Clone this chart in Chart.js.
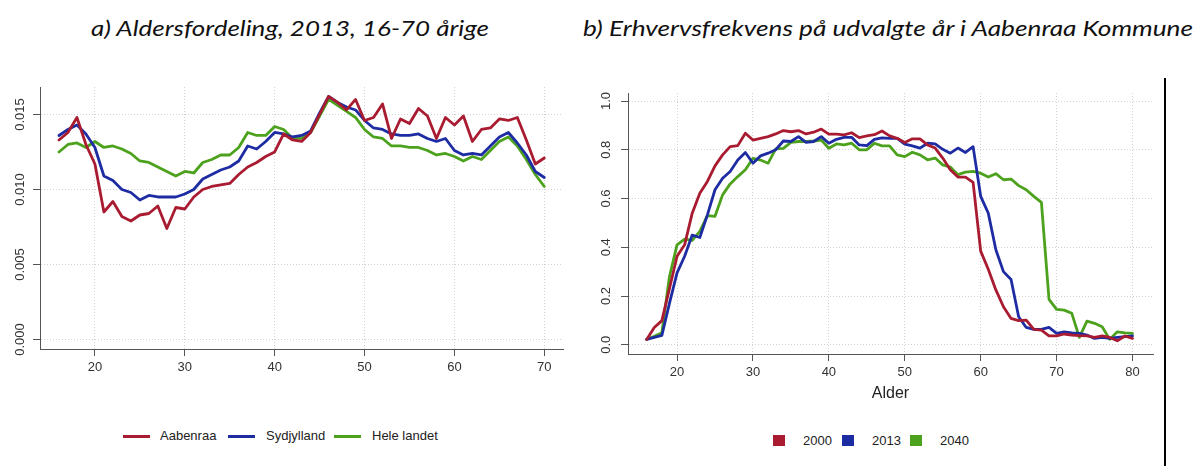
<!DOCTYPE html>
<html>
<head>
<meta charset="utf-8">
<script src="https://cdn.jsdelivr.net/npm/chart.js@4.4.1/dist/chart.umd.min.js"></script>
<style>
  body { margin: 0; background: #fff; width: 1198px; height: 466px; overflow: hidden; position: relative;
         font-family: "Liberation Sans", Arial, sans-serif; }
  .title { position: absolute; top: 17px; font-family: Lato, "Open Sans", sans-serif; font-style: italic;
           font-weight: 400; font-size: 22px; line-height: 22px; color: #111; white-space: nowrap; transform-origin: left top; }
  #wrapA { position: absolute; left: 0; top: 0; width: 590px; height: 400px; }
  #wrapB { position: absolute; left: 590px; top: 0; width: 575px; height: 404px; }
  .leg { position: absolute; font-size: 13px; line-height: 15px; color: #222; white-space: nowrap; }
  .swatch { position: absolute; }
  .rule { position: absolute; left: 1164px; top: 78px; width: 1.5px; height: 388px; background: #000; }
</style>
</head>
<body>
<div class="title" id="titleA" style="left:91px">a) Aldersfordeling, 2013, 16-70 årige</div>
<div class="title" id="titleB" style="left:583px">b) Erhvervsfrekvens på udvalgte år i Aabenraa Kommune</div>

<div id="wrapA"><canvas id="ageChart"></canvas></div>
<div id="wrapB"><canvas id="workChart"></canvas></div>
<div class="rule"></div>

<!-- legend, chart a -->
<div class="swatch" style="left:123px;top:435px;width:27px;height:2.5px;background:#A91B30"></div>
<div class="leg" style="left:160px;top:428px">Aabenraa</div>
<div class="swatch" style="left:228px;top:435px;width:27px;height:2.5px;background:#1E2CA3"></div>
<div class="leg" style="left:266px;top:428px">Sydjylland</div>
<div class="swatch" style="left:334px;top:435px;width:27px;height:2.5px;background:#4CA21C"></div>
<div class="leg" style="left:372px;top:428px">Hele landet</div>

<!-- legend, chart b -->
<div class="swatch" style="left:773px;top:435px;width:12px;height:11px;background:#A91B30"></div>
<div class="leg" style="left:803px;top:433px">2000</div>
<div class="swatch" style="left:842px;top:435px;width:12px;height:11px;background:#1E2CA3"></div>
<div class="leg" style="left:872px;top:433px">2013</div>
<div class="swatch" style="left:910px;top:435px;width:12px;height:11px;background:#4CA21C"></div>
<div class="leg" style="left:940px;top:433px">2040</div>

<script>
// a) share of population by age, 2013
const ages = [16,17,18,19,20,21,22,23,24,25,26,27,28,29,30,31,32,33,34,35,36,37,38,39,40,
              41,42,43,44,45,46,47,48,49,50,51,52,53,54,55,56,57,58,59,60,61,62,63,64,65,
              66,67,68,69,70];
const aabenraa = [0.0133,0.0138,0.0148,0.0130,0.0117,0.0085,0.0092,0.0082,0.0079,0.0083,
                  0.0084,0.0089,0.0074,0.0088,0.0087,0.0095,0.0100,0.0102,0.0103,0.0104,
                  0.0110,0.0115,0.0118,0.0122,0.0125,0.0137,0.0133,0.0132,0.0138,0.0150,
                  0.0162,0.0158,0.0153,0.0160,0.0146,0.0148,0.0157,0.0134,0.0147,0.0144,
                  0.0154,0.0149,0.0134,0.0148,0.0143,0.0149,0.0132,0.0140,0.0141,0.0147,
                  0.0146,0.0148,0.0133,0.0117,0.0121];
const sydjylland = [0.0136,0.0140,0.0143,0.0137,0.0128,0.0109,0.0106,0.0100,0.0098,0.0093,
                    0.0096,0.0095,0.0095,0.0095,0.0097,0.0100,0.0107,0.0110,0.0113,0.0115,
                    0.0119,0.0129,0.0127,0.0132,0.0138,0.0137,0.0135,0.0136,0.0139,0.0151,
                    0.0162,0.0158,0.0155,0.0153,0.0146,0.0141,0.0140,0.0137,0.0136,0.0136,
                    0.0137,0.0134,0.0132,0.0134,0.0126,0.0123,0.0124,0.0123,0.0129,0.0135,
                    0.0138,0.0131,0.0123,0.0112,0.0108];
const heleLandet = [0.0125,0.0130,0.0131,0.0128,0.0132,0.0128,0.0129,0.0127,0.0124,0.0119,
                    0.0118,0.0115,0.0112,0.0109,0.0112,0.0111,0.0118,0.0120,0.0123,0.0123,
                    0.0128,0.0138,0.0136,0.0136,0.0142,0.0140,0.0134,0.0134,0.0138,0.0149,
                    0.0160,0.0156,0.0152,0.0148,0.0140,0.0135,0.0134,0.0129,0.0129,0.0128,
                    0.0128,0.0126,0.0123,0.0124,0.0122,0.0119,0.0122,0.0120,0.0126,0.0132,
                    0.0135,0.0129,0.0120,0.0110,0.0102];
const ageTicksA = [20,30,40,50,60,70];
const shareTicks = [0, 0.005, 0.010, 0.015];
const shareLabels = ['0.000','0.005','0.010','0.015'];

// b) employment rate by age, selected years
const years = [16,17,18,19,20,21,22,23,24,25,26,27,28,29,30,31,32,33,34,35,36,37,38,39,40,
               41,42,43,44,45,46,47,48,49,50,51,52,53,54,55,56,57,58,59,60,61,62,63,64,65,
               66,67,68,69,70,71,72,73,74,75,76,77,78,79,80];
const rate2000 = [0.022,0.071,0.099,0.23,0.363,0.41,0.54,0.622,0.67,0.734,
                  0.779,0.813,0.817,0.868,0.84,0.847,0.854,0.865,0.879,0.874,
                  0.879,0.865,0.872,0.885,0.864,0.864,0.861,0.87,0.85,0.857,
                  0.862,0.877,0.857,0.847,0.83,0.845,0.845,0.82,0.807,0.766,
                  0.718,0.688,0.688,0.666,0.384,0.31,0.225,0.156,0.108,0.099,
                  0.101,0.063,0.06,0.036,0.036,0.044,0.04,0.037,0.036,0.03,
                  0.036,0.03,0.016,0.036,0.026];
const rate2013 = [0.022,0.03,0.038,0.17,0.295,0.363,0.45,0.44,0.533,0.636,
                  0.683,0.711,0.758,0.789,0.745,0.775,0.786,0.80,0.836,0.834,
                  0.854,0.83,0.834,0.854,0.827,0.843,0.851,0.851,0.82,0.817,
                  0.843,0.849,0.847,0.847,0.823,0.816,0.807,0.827,0.824,0.802,
                  0.786,0.807,0.789,0.813,0.609,0.54,0.39,0.30,0.268,0.115,
                  0.071,0.063,0.063,0.071,0.047,0.053,0.049,0.047,0.04,0.026,
                  0.03,0.026,0.03,0.033,0.036];
const rate2040 = [0.022,0.035,0.049,0.28,0.41,0.433,0.428,0.465,0.53,0.527,
                  0.615,0.66,0.69,0.718,0.765,0.758,0.745,0.804,0.806,0.83,
                  0.834,0.834,0.836,0.84,0.806,0.824,0.82,0.827,0.80,0.80,
                  0.827,0.816,0.816,0.779,0.772,0.79,0.779,0.759,0.766,0.738,
                  0.729,0.698,0.708,0.711,0.704,0.688,0.702,0.677,0.68,0.653,
                  0.636,0.609,0.584,0.186,0.145,0.142,0.129,0.03,0.097,0.088,
                  0.074,0.022,0.053,0.049,0.047];
const ageTicksB = [20,30,40,50,60,70,80];
const rateTicks = [0, 0.2, 0.4, 0.6, 0.8, 1.0];
const rateLabels = ['0.0','0.2','0.4','0.6','0.8','1.0'];

const RED = '#A91B30', BLUE = '#1E2CA3', GREEN = '#4CA21C';
const TICK_FONT = { family: '"Liberation Sans", Arial, sans-serif', size: 13 };

function points(xs, ys) {
  return xs.map((x, i) => ({ x: x, y: ys[i] }));
}

function series(label, xs, ys, color) {
  return {
    label: label, data: points(xs, ys), borderColor: color, backgroundColor: color,
    borderWidth: 2.8, pointRadius: 0, fill: false, tension: 0,
    borderJoinStyle: 'round', borderCapStyle: 'round'
  };
}

const gridOpts = { color: '#d2d2d2', lineWidth: 1, drawTicks: true, tickLength: 7, tickColor: '#555', tickWidth: 1 };
const borderOpts = { display: true, color: '#555', width: 1, dash: [1, 2] };

// R-style y labels, turned to read bottom-up
const rotatedYLabels = {
  id: 'rotatedYLabels',
  afterDraw(chart, args, opts) {
    const s = chart.scales.y, ctx = chart.ctx;
    ctx.save();
    ctx.font = '13px "Liberation Sans", Arial, sans-serif';
    ctx.fillStyle = '#333';
    ctx.textAlign = 'center';
    ctx.textBaseline = 'middle';
    opts.values.forEach((v, i) => {
      ctx.save();
      ctx.translate(opts.x, s.getPixelForValue(v));
      ctx.rotate(-Math.PI / 2);
      ctx.fillText(opts.labels[i], 0, 0);
      ctx.restore();
    });
    ctx.restore();
  }
};

function makeChart(id, cfg) {
  return new Chart(document.getElementById(id), {
    type: 'line',
    data: { datasets: cfg.datasets },
    plugins: [rotatedYLabels],
    options: {
      responsive: true, maintainAspectRatio: false, animation: false,
      layout: { padding: cfg.padding },
      plugins: {
        legend: { display: false }, tooltip: { enabled: false },
        rotatedYLabels: { x: cfg.labelX, values: cfg.yTicks, labels: cfg.yLabels }
      },
      scales: {
        x: {
          type: 'linear', min: cfg.xMin, max: cfg.xMax,
          afterBuildTicks: s => { s.ticks = cfg.xTicks.map(v => ({ value: v })); },
          afterFit: s => { s.height = cfg.xHeight; },
          ticks: { font: TICK_FONT, color: '#333', padding: 4, maxRotation: 0, autoSkip: false },
          grid: gridOpts, border: borderOpts,
          title: cfg.xTitle
        },
        y: {
          type: 'linear', min: cfg.yMin, max: cfg.yMax,
          afterBuildTicks: s => { s.ticks = cfg.yTicks.map(v => ({ value: v })); },
          afterFit: s => { s.width = cfg.yWidth; },
          ticks: { display: false },
          grid: gridOpts, border: borderOpts
        }
      }
    }
  });
}

makeChart('ageChart', {
  datasets: [
    series('Aabenraa', ages, aabenraa, RED),
    series('Sydjylland', ages, sydjylland, BLUE),
    series('Hele landet', ages, heleLandet, GREEN)
  ],
  padding: { top: 87, right: 27, left: 0, bottom: 0 },
  xMin: 13.89, xMax: 72.08, xTicks: ageTicksA, xHeight: 51,
  yMin: -0.00063, yMax: 0.01683, yTicks: shareTicks, yLabels: shareLabels, yWidth: 40,
  labelX: 20,
  xTitle: { display: false }
});

makeChart('workChart', {
  datasets: [
    series('2000', years, rate2000, RED),
    series('2013', years, rate2013, BLUE),
    series('2040', years, rate2040, GREEN)
  ],
  padding: { top: 93, right: 12, left: 0, bottom: 0 },
  xMin: 13.54, xMax: 82.7, xTicks: ageTicksB, xHeight: 50,
  yMin: -0.038, yMax: 1.033, yTicks: rateTicks, yLabels: rateLabels, yWidth: 38,
  labelX: 16.7,
  xTitle: { display: true, text: 'Alder', color: '#222',
            font: { family: '"Liberation Sans", Arial, sans-serif', size: 16 },
            padding: { top: 0, bottom: 1 } }
});

// squeeze the italic headings to their set widths
[['titleA', 398], ['titleB', 610]].forEach(([id, w]) => {
  const el = document.getElementById(id);
  const actual = el.getBoundingClientRect().width;
  el.style.transform = 'scaleX(' + (w / actual) + ')';
});
</script>
</body>
</html>
